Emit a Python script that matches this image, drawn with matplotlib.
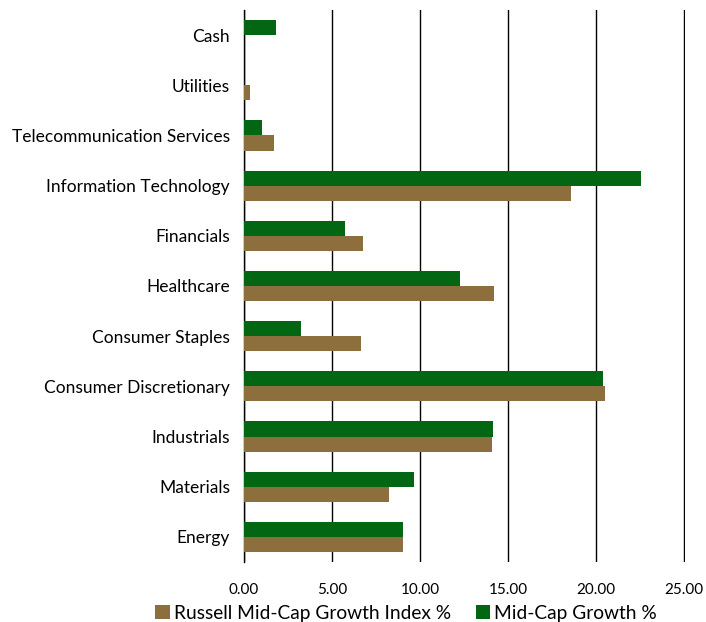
import numpy as np
import matplotlib
matplotlib.use("Agg")
import matplotlib.pyplot as plt

plt.rcParams['font.family'] = ['Lato', 'DejaVu Sans']

# categorias de abajo hacia arriba
sectores = ["Energy", "Materials", "Industrials", "Consumer Discretionary",
            "Consumer Staples", "Healthcare", "Financials",
            "Information Technology", "Telecommunication Services",
            "Utilities", "Cash"]
russell = [9.03, 8.23, 14.09, 20.52, 6.64, 14.20, 6.75, 18.58, 1.69, 0.32, 0.0]
midcap = [9.03, 9.65, 14.15, 20.40, 3.22, 12.28, 5.73, 22.57, 1.00, 0.0, 1.80]
ticks_x = [0, 5, 10, 15, 20, 25]

color_russell = "#8c6f3c"
color_midcap = "#036612"

fig = plt.figure(figsize=(7.06, 6.22), dpi=100)
ax = fig.add_axes([244 / 706, 1 - 562 / 622, 441 / 706, 552 / 622])

y = np.arange(len(sectores))
alto = 0.3
ax.barh(y - alto / 2, russell, height=alto, color=color_russell,
        label="Russell Mid-Cap Growth Index %", zorder=3)
ax.barh(y + alto / 2, midcap, height=alto, color=color_midcap,
        label="Mid-Cap Growth %", zorder=3)

ax.set_xlim(0, 25.05)
ax.set_ylim(-0.5, len(sectores) - 0.5)
ax.set_xticks(ticks_x)
ax.set_xticklabels(["%.2f" % t for t in ticks_x], fontsize=11)
ax.set_yticks(y)
ax.set_yticklabels(sectores, fontsize=12.5)
ax.tick_params(axis='y', length=0, pad=10)
ax.tick_params(axis='x', length=0, pad=15)
ax.xaxis.grid(True, color="black", linewidth=1, zorder=0)

for lado in ["top", "right", "bottom"]:
    ax.spines[lado].set_visible(False)
ax.spines["left"].set_color("black")
ax.spines["left"].set_linewidth(1)

fig.legend(loc="center", bbox_to_anchor=(0.575, 0.014), ncol=2, frameon=False,
           fontsize=13.8, handlelength=0.75, handleheight=0.75, handletextpad=0.2,
           columnspacing=1.3, borderpad=0.1)

fig.savefig("out.png", dpi=100)
